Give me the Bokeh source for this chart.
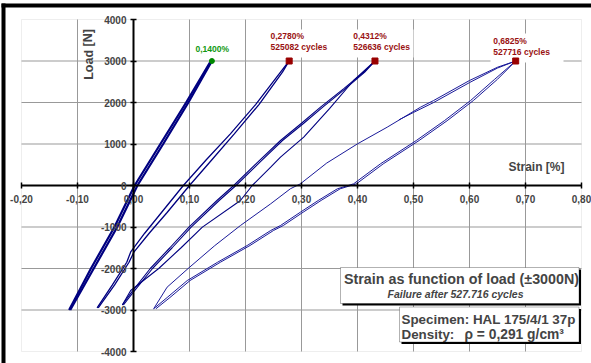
from bokeh.plotting import figure
from bokeh.models import Label, BoxAnnotation, FixedTicker, CustomJSTickFormatter, Range1d
from bokeh.embed import file_html
from bokeh.resources import INLINE

# ---------------- data ----------------
x_ticks = [-0.2, -0.1, 0.0, 0.1, 0.2, 0.3, 0.4, 0.5, 0.6, 0.7, 0.8]
y_ticks = [-4000, -3000, -2000, -1000, 0, 1000, 2000, 3000, 4000]

# loop 1 (0,1400 %)
loop1_a_x = [-0.115, -0.076, -0.034, 0.002, 0.048, 0.094, 0.138]
loop1_a_y = [-3000, -2000, -1000, 0, 1000, 2000, 3000]
loop1_b_x = [-0.113, -0.071, -0.029, 0.007, 0.053, 0.098, 0.140]
loop1_b_y = [-3000, -2000, -1000, 0, 1000, 2000, 3000]

# loop 2 (0,2780 %)
loop2_a_x = [-0.065, -0.038, -0.012, -0.005, 0.020, 0.050, 0.089, 0.130, 0.173, 0.218, 0.2625, 0.278]
loop2_a_y = [-2950, -2400, -1850, -1600, -1150, -650, 0, 620, 1245, 1950, 2730, 3000]
loop2_b_x = [-0.063, -0.034, -0.008, 0.001, 0.028, 0.060, 0.100, 0.140, 0.180, 0.224, 0.266, 0.278]
loop2_b_y = [-2950, -2400, -1850, -1600, -1150, -650, 0, 620, 1245, 1950, 2730, 3000]

# loop 3 (0,4312 %)
loop3_a_x = [-0.020, -0.005, 0.030, 0.065, 0.099, 0.149, 0.179, 0.220, 0.2625, 0.300, 0.334, 0.375, 0.411, 0.4312]
loop3_a_y = [-2880, -2600, -2000, -1500, -1004, -361, 0, 540, 1084, 1500, 1887, 2330, 2730, 3000]
loop3_b_x = [-0.018, -0.002, 0.034, 0.069, 0.103, 0.153, 0.183, 0.224, 0.266, 0.304, 0.338, 0.378, 0.413, 0.4312]
loop3_b_y = [-2880, -2600, -2000, -1500, -1004, -361, 0, 540, 1084, 1500, 1887, 2330, 2730, 3000]
loop3_c_x = [-0.020, -0.005, 0.045, 0.085, 0.123, 0.191, 0.212, 0.245, 0.2625, 0.304, 0.350, 0.393, 0.4312]
loop3_c_y = [-2880, -2530, -2000, -1500, -1004, -361, 0, 441, 683, 1164, 1850, 2530, 3000]

# loop 4 (0,6825 %)
loop4_a_x = [0.036, 0.060, 0.099, 0.145, 0.191, 0.245, 0.280, 0.298, 0.345, 0.400, 0.453, 0.5125, 0.536, 0.600, 0.650, 0.6825]
loop4_a_y = [-2970, -2450, -1983, -1450, -964, -441, -80, 40, 540, 1004, 1405, 1887, 2048, 2530, 2850, 3000]
loop4_b_x = [0.036, 0.060, 0.096, 0.150, 0.203, 0.245, 0.2625, 0.298, 0.330, 0.364, 0.393, 0.441, 0.505, 0.555, 0.602, 0.645, 0.6825]
loop4_b_y = [-2970, -2700, -2290, -1850, -1446, -1084, -964, -643, -360, -80, 40, 522, 1084, 1560, 2048, 2560, 3000]
loop4_c_x = [0.040, 0.065, 0.101, 0.155, 0.208, 0.250, 0.2675, 0.303, 0.335, 0.369, 0.398, 0.446, 0.510, 0.560, 0.607, 0.650, 0.6825]
loop4_c_y = [-2970, -2700, -2290, -1850, -1446, -1084, -964, -643, -360, -80, 40, 522, 1084, 1560, 2048, 2560, 3000]
loop4_d_x = [0.474, 0.500, 0.536, 0.600, 0.650, 0.6825]
loop4_d_y = [1583, 1760, 2000, 2480, 2830, 3000]

fail_x = [0.1400, 0.2780, 0.4312, 0.6825]
fail_y = [3000, 3000, 3000, 3000]
fail_pct = ["0,1400%", "0,2780%", "0,4312%", "0,6825%"]
fail_cycles = ["", "525082 cycles", "526636 cycles", "527716 cycles"]

# ---------------- layout helpers (page pixel -> data) ----------------
W, H = 591, 363
PL, PT, PW, PH = 21, 19, 560, 332     # plot area in page pixels


def dx(px):
    return -0.2 + (px - PL) / PW


def dy(py):
    return 4000 - (py - PT) * 8000 / PH


FONT = "Liberation Sans"
NAVY = "#000080"
GREEN = "#119911"
RED = "#991111"

p = figure(width=W, height=H, output_backend="svg", toolbar_location=None,
           x_range=Range1d(dx(0), dx(W)), y_range=Range1d(dy(H), dy(0)),
           min_border_left=0, min_border_right=0, min_border_top=0, min_border_bottom=0)
p.background_fill_color = "white"
p.border_fill_color = "white"
p.outline_line_color = None
p.grid.visible = False

p.xaxis.fixed_location = 0
p.yaxis.fixed_location = 0
p.xaxis.bounds = (x_ticks[0], x_ticks[-1])
p.yaxis.bounds = (y_ticks[0], y_ticks[-1])
p.xaxis.ticker = FixedTicker(ticks=x_ticks)
p.yaxis.ticker = FixedTicker(ticks=y_ticks)
p.xaxis.formatter = CustomJSTickFormatter(code="return tick.toFixed(2).replace('.', ',');")
p.yaxis.formatter = CustomJSTickFormatter(code="return tick.toFixed(0);")
p.axis.axis_line_color = "black"
p.axis.axis_line_width = 2
p.axis.major_tick_line_color = "black"
p.axis.major_tick_line_width = 1.5
p.axis.major_tick_in = 3
p.axis.major_tick_out = 3
p.axis.minor_tick_line_color = None
p.axis.major_label_text_font = FONT
p.axis.major_label_text_font_style = "bold"
p.axis.major_label_text_font_size = "10px"
p.xaxis.major_label_standoff = 6
p.yaxis.major_label_standoff = 4

# plot area edge + grid
p.add_layout(BoxAnnotation(left=x_ticks[0], right=x_ticks[-1], bottom=y_ticks[0], top=y_ticks[-1],
                           fill_color=None, line_color="#c8c8c8", line_width=1, level="underlay"))
gx = x_ticks[1:-1]
gy = y_ticks[1:-1]
p.segment(x0=gx, y0=[y_ticks[0]] * len(gx), x1=gx, y1=[y_ticks[-1]] * len(gx),
          line_color="#999999", line_width=1)
p.segment(x0=[x_ticks[0]] * len(gy), y0=gy, x1=[x_ticks[-1]] * len(gy), y1=gy,
          line_color="#999999", line_width=1)

# black chart-area border (left and top)
p.add_layout(BoxAnnotation(left=dx(1), right=dx(5), top=dy(3), bottom=dy(H + 5),
                           fill_color="black", fill_alpha=1, line_color=None))
p.add_layout(BoxAnnotation(left=dx(1), right=dx(W + 5), top=dy(3), bottom=dy(7),
                           fill_color="black", fill_alpha=1, line_color=None))

# white backgrounds behind data labels
for l, r, t, b in [(268, 331, 29, 57), (350, 413, 29, 57), (490, 563, 33, 62)]:
    p.quad(left=[dx(l)], right=[dx(r)], top=[dy(t)], bottom=[dy(b)],
           fill_color="white", line_color=None)

# curves
p.line(loop1_a_x, loop1_a_y, line_color=NAVY, line_width=2.2)
p.line(loop1_b_x, loop1_b_y, line_color=NAVY, line_width=2.2)
for xs, ys in [(loop2_a_x, loop2_a_y), (loop2_b_x, loop2_b_y)]:
    p.line(xs, ys, line_color=NAVY, line_width=1.3)
for xs, ys in [(loop3_a_x, loop3_a_y), (loop3_b_x, loop3_b_y), (loop3_c_x, loop3_c_y)]:
    p.line(xs, ys, line_color=NAVY, line_width=1.1)
for xs, ys in [(loop4_a_x, loop4_a_y), (loop4_b_x, loop4_b_y),
               (loop4_c_x, loop4_c_y), (loop4_d_x, loop4_d_y)]:
    p.line(xs, ys, line_color="#1a1a99", line_width=1)

p.scatter(fail_x[:1], fail_y[:1], marker="circle", size=5, color="#008800")
p.scatter(fail_x[1:], fail_y[1:], marker="square", size=6, color="#990000")

# data labels
label_pos = [(195, 48, None), (270, 35.7, 46.7), (352.7, 35.7, 46.7), (492.7, 40, 51.7)]
for i, (lx, ly1, ly2) in enumerate(label_pos):
    col = GREEN if i == 0 else RED
    p.add_layout(Label(x=dx(lx), y=dy(ly1), text=fail_pct[i], text_font=FONT,
                       text_font_style="bold", text_font_size="8.5px",
                       text_color=col, text_baseline="middle", text_align="left"))
    if ly2 is not None:
        p.add_layout(Label(x=dx(lx), y=dy(ly2), text=fail_cycles[i], text_font=FONT,
                           text_font_style="bold", text_font_size="8.5px",
                           text_color=col, text_baseline="middle", text_align="left"))

# axis titles
p.add_layout(Label(x=dx(88), y=dy(54), text="Load [N]", text_font=FONT,
                   text_font_style="bold", text_font_size="12.5px", angle=1.5708,
                   text_baseline="middle", text_align="center"))
p.add_layout(Label(x=dx(508), y=dy(166), text="Strain [%]", text_font=FONT,
                   text_font_style="bold", text_font_size="12px",
                   text_baseline="middle", text_align="left"))


# info boxes with shadow
def shadow_box(l, r, t, b):
    p.add_layout(BoxAnnotation(left=dx(l + 2), right=dx(r + 2), top=dy(t + 2),
                               bottom=dy(b + 2), fill_color="black", fill_alpha=1,
                               line_color=None))
    p.add_layout(BoxAnnotation(left=dx(l), right=dx(r), top=dy(t), bottom=dy(b),
                               fill_color="white", fill_alpha=1, line_color="black",
                               line_width=1))


shadow_box(340, 578.5, 267, 303)
p.add_layout(Label(x=dx(461), y=dy(278.5), text="Strain as function of load (\u00b13000N)",
                   text_font=FONT, text_font_style="bold", text_font_size="14.3px",
                   text_baseline="middle", text_align="center"))
p.add_layout(Label(x=dx(455), y=dy(293.5), text="Failure after 527.716 cycles",
                   text_font=FONT, text_font_style="bold italic", text_font_size="10.5px",
                   text_baseline="middle", text_align="center"))

shadow_box(399, 578.5, 306.5, 341.5)
p.add_layout(Label(x=dx(401), y=dy(319.3), text="Specimen: HAL 175/4/1 37p",
                   text_font=FONT, text_font_style="bold", text_font_size="13.4px",
                   text_baseline="middle", text_align="left"))
p.add_layout(Label(x=dx(401), y=dy(334), text="Density:",
                   text_font=FONT, text_font_style="bold", text_font_size="13.4px",
                   text_baseline="middle", text_align="left"))
p.add_layout(Label(x=dx(464), y=dy(334), text="\u03c1 = 0,291 g/cm\u00b3",
                   text_font=FONT, text_font_style="bold", text_font_size="13.8px",
                   text_baseline="middle", text_align="left"))

open("out.html", "w").write(file_html(p, INLINE))
